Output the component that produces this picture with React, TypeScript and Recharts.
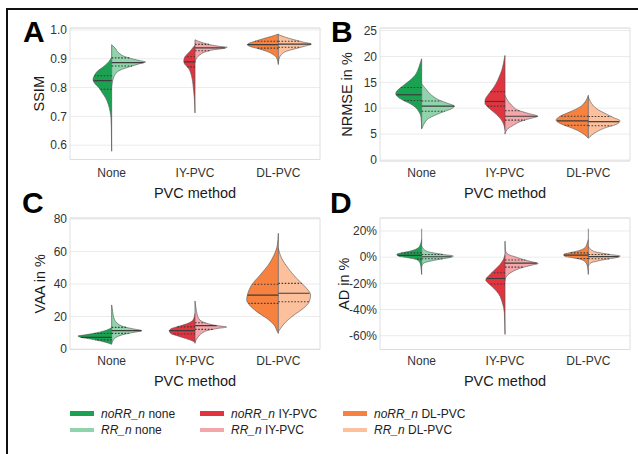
import React from "react";
import { ScatterChart, Scatter, XAxis, YAxis, CartesianGrid, ReferenceArea } from "recharts";

type Profile = [number, number][];

const methods = ["None", "IY-PVC", "DL-PVC"];
const legendMethods = ["none", "IY-PVC", "DL-PVC"];
const groupNames = ["noRR_n", "RR_n"];
const noRRColors = ["#1ba152", "#e2343f", "#f7823f"];
const rrColors = ["#90d4ab", "#f4a7ab", "#fcc09d"];

// violin outlines: [value, half width in category units], bottom to top

// SSIM
const ssimNoRR: Profile[] = [
  [[0.579, 0], [0.66, 0.004], [0.694, 0.008], [0.718, 0.02], [0.741, 0.04], [0.764, 0.072], [0.781, 0.111], [0.799, 0.152], [0.816, 0.207], [0.828, 0.224], [0.839, 0.212], [0.857, 0.171], [0.874, 0.092], [0.891, 0.032], [0.905, 0]],
  [[0.712, 0], [0.764, 0.008], [0.787, 0.016], [0.81, 0.024], [0.833, 0.036], [0.851, 0.052], [0.868, 0.08], [0.88, 0.12], [0.891, 0.135], [0.903, 0.128], [0.914, 0.1], [0.926, 0.06], [0.9375, 0.028], [0.947, 0]],
  [[0.88, 0], [0.903, 0.02], [0.914, 0.06], [0.926, 0.14], [0.935, 0.24], [0.943, 0.339], [0.949, 0.371], [0.953, 0.359], [0.961, 0.279], [0.97, 0.18], [0.978, 0.08], [0.986, 0]],
];
const ssimRR: Profile[] = [
  [[0.804, 0], [0.828, 0.016], [0.845, 0.04], [0.857, 0.08], [0.868, 0.168], [0.877, 0.267], [0.884, 0.347], [0.889, 0.407], [0.893, 0.347], [0.9, 0.248], [0.909, 0.147], [0.92, 0.087], [0.9375, 0.04], [0.949, 0]],
  [[0.885, 0], [0.903, 0.02], [0.914, 0.06], [0.924, 0.12], [0.931, 0.219], [0.935, 0.32], [0.94, 0.387], [0.943, 0.3], [0.949, 0.18], [0.955, 0.1], [0.961, 0.04], [0.966, 0]],
  [[0.885, 0], [0.897, 0.006], [0.914, 0.036], [0.926, 0.096], [0.935, 0.204], [0.944, 0.323], [0.951, 0.395], [0.958, 0.299], [0.966, 0.192], [0.975, 0.084], [0.984, 0]],
];
const ssimRange = [[0.579, 0.949], [0.712, 0.966], [0.88, 0.986]];
const ssimQNoRR = [[0.794, 0.824, 0.841], [0.872, 0.889, 0.907], [0.937, 0.949, 0.961]];
const ssimQRR = [[0.875, 0.887, 0.903], [0.928, 0.938, 0.95], [0.94, 0.951, 0.961]];
const ssimTicks = [0.6, 0.7, 0.8, 0.9, 1.0];

// NRMSE in %
const nrmseNoRR: Profile[] = [
  [[6.1, 0], [8.3, 0.008], [9.3, 0.032], [10.25, 0.08], [10.9, 0.14], [11.5, 0.219], [12.2, 0.287], [12.8, 0.311], [13.5, 0.287], [14.4, 0.219], [15.4, 0.14], [16.35, 0.08], [17.3, 0.048], [18.6, 0.02], [19.55, 0]],
  [[5.8, 0], [7.05, 0.02], [8.3, 0.072], [9.3, 0.14], [10.25, 0.207], [10.9, 0.24], [11.5, 0.24], [12.5, 0.207], [13.5, 0.159], [14.75, 0.108], [16.0, 0.072], [17.3, 0.04], [18.6, 0.02], [20.2, 0]],
  [[4.2, 0], [4.8, 0.04], [5.45, 0.1], [6.3, 0.219], [7.05, 0.339], [7.7, 0.387], [8.45, 0.339], [9.3, 0.219], [10.25, 0.1], [11.2, 0.04], [12.5, 0]],
];
const nrmseRR: Profile[] = [
  [[6.0, 0], [7.05, 0.032], [8.0, 0.08], [8.65, 0.16], [9.3, 0.26], [9.9, 0.359], [10.4, 0.392], [10.9, 0.32], [11.5, 0.219], [12.5, 0.12], [13.5, 0.06], [14.75, 0]],
  [[5.0, 0], [6.1, 0.04], [6.7, 0.1], [7.4, 0.18], [8.0, 0.3], [8.45, 0.392], [9.0, 0.279], [9.6, 0.159], [10.6, 0.08], [11.5, 0.032], [12.5, 0]],
  [[4.2, 0], [4.8, 0.04], [5.45, 0.1], [6.3, 0.219], [6.9, 0.339], [7.57, 0.38], [8.2, 0.3], [9.0, 0.2], [9.9, 0.1], [10.9, 0.04], [12.2, 0]],
];
const nrmseRange = [[6.0, 19.55], [5.0, 20.2], [4.2, 12.5]];
const nrmseQNoRR = [[11.5, 12.6, 14.0], [10.4, 11.3, 13.2], [6.7, 7.57, 8.45]];
const nrmseQRR = [[9.4, 10.4, 11.4], [7.7, 8.45, 9.5], [6.6, 7.4, 8.4]];
const nrmseTicks = [0, 5, 10, 15, 20, 25];

// VAA in %
const vaaNoRR: Profile[] = [
  [[2.9, 0], [3.5, 0.032], [4.9, 0.132], [6.15, 0.251], [7.2, 0.371], [8.0, 0.404], [8.6, 0.332], [9.64, 0.212], [11.1, 0.092], [13.1, 0]],
  [[4.1, 0], [5.1, 0.036], [6.6, 0.12], [8.2, 0.216], [9.6, 0.291], [11.3, 0.308], [12.7, 0.275], [14.2, 0.18], [15.8, 0.084], [17.8, 0.024], [22.0, 0]],
  [[9.6, 0], [10.7, 0.012], [14.8, 0.052], [18.9, 0.14], [23.0, 0.26], [27.1, 0.347], [30.2, 0.38], [33.2, 0.371], [39.4, 0.32], [45.5, 0.219], [51.7, 0.12], [57.8, 0.052], [64.0, 0.012], [71.2, 0]],
];
const vaaRR: Profile[] = [
  [[3.2, 0], [5.5, 0.02], [7.6, 0.068], [9.0, 0.147], [10.25, 0.267], [11.3, 0.359], [12.3, 0.267], [13.7, 0.147], [15.8, 0.068], [18.9, 0.028], [23.0, 0.012], [27.1, 0]],
  [[3.5, 0], [5.5, 0.012], [7.6, 0.04], [9.6, 0.08], [11.5, 0.159], [12.7, 0.279], [13.5, 0.38], [14.4, 0.26], [15.8, 0.14], [17.8, 0.06], [20.9, 0.028], [25.0, 0.012], [29.5, 0]],
  [[10.7, 0], [12.7, 0.028], [16.8, 0.092], [20.9, 0.188], [25.0, 0.299], [29.1, 0.371], [33.2, 0.387], [38.4, 0.32], [43.5, 0.219], [49.6, 0.12], [55.8, 0.04], [62.0, 0]],
];
const vaaRange = [[2.9, 27.1], [3.5, 29.5], [9.6, 71.2]];
const vaaQNoRR = [[5.6, 7.2, 9.5], [9.2, 11.3, 13.6], [28.1, 33.2, 39.8]];
const vaaQRR = [[9.6, 11.3, 13.3], [12.1, 14.4, 16.2], [29.1, 34.3, 40.4]];
const vaaTicks = [0, 20, 40, 60, 80];

// AD in %
const adNoRR: Profile[] = [
  [[-13.2, 0], [-8.1, 0.008], [-4.3, 0.02], [-1.8, 0.06], [-0.5, 0.159], [0.8, 0.279], [2.06, 0.299], [3.3, 0.24], [4.6, 0.14], [7.2, 0.04], [9.7, 0.016], [13.5, 0]],
  [[-59, 0], [-42.4, 0.008], [-34.8, 0.032], [-28.5, 0.072], [-23.4, 0.14], [-19.5, 0.207], [-17.6, 0.231], [-15.7, 0.219], [-13.2, 0.18], [-9.4, 0.12], [-5.6, 0.06], [-1.8, 0.02], [2.0, 0]],
  [[-13.2, 0], [-8.1, 0.008], [-4.3, 0.028], [-1.8, 0.087], [-0.5, 0.188], [0.8, 0.287], [2.06, 0.296], [3.3, 0.228], [4.6, 0.135], [7.2, 0.04], [9.7, 0.02], [13.5, 0]],
];
const adRR: Profile[] = [
  [[-6.9, 0], [-4.3, 0.032], [-3.1, 0.1], [-1.8, 0.2], [-0.5, 0.32], [0.8, 0.38], [2.06, 0.26], [3.3, 0.14], [4.6, 0.06], [8.4, 0]],
  [[-18.3, 0], [-15.7, 0.008], [-13.2, 0.04], [-10.7, 0.1], [-8.1, 0.2], [-6.1, 0.32], [-4.8, 0.399], [-3.5, 0.32], [-1.8, 0.219], [0.3, 0.12], [2.06, 0.04], [3.3, 0.018], [5.9, 0.004], [12.2, 0]],
  [[-6.9, 0], [-4.3, 0.032], [-3.1, 0.1], [-1.8, 0.2], [-0.5, 0.323], [0.8, 0.383], [2.06, 0.263], [3.3, 0.14], [4.6, 0.06], [8.4, 0]],
];
const adRange = [[-13.2, 21.7], [-59, 12.2], [-13.2, 21.7]];
const adQNoRR = [[-1.5, 1.3, 3.3], [-20.5, -16.3, -11.9], [-1.0, 1.5, 3.3]];
const adQRR = [[-1.2, 0.3, 2.0], [-7.6, -4.5, -2.2], [-1.2, 0.4, 2.0]];
const adTicks = [-60, -40, -20, 0, 20];

const panels = [
  { letter: "A", yLabel: "SSIM", noRR: ssimNoRR, rr: ssimRR, range: ssimRange, qNoRR: ssimQNoRR, qRR: ssimQRR, ticks: ssimTicks, domain: [0.5503, 1.0069], fmt: (v: number) => v.toFixed(1),
    left: 0, top: 0, width: 325, height: 205, plotTop: 28, plotBottom: 159.5, yAxisWidth: 70, tickMargin: 8.8, titleOffset: 7.5, yLabelOffset: 38.7 },
  { letter: "B", yLabel: "NRMSE in %", noRR: nrmseNoRR, rr: nrmseRR, range: nrmseRange, qNoRR: nrmseQNoRR, qRR: nrmseQRR, ticks: nrmseTicks, domain: [-0.2, 25.5], fmt: (v: number) => String(v),
    left: 320, top: 0, width: 315, height: 205, plotTop: 28, plotBottom: 161, yAxisWidth: 60, tickMargin: 7.3, titleOffset: 7.5, yLabelOffset: 27 },
  { letter: "C", yLabel: "VAA in %", noRR: vaaNoRR, rr: vaaRR, range: vaaRange, qNoRR: vaaQNoRR, qRR: vaaQRR, ticks: vaaTicks, domain: [-0.3, 80.6], fmt: (v: number) => String(v),
    left: 0, top: 190, width: 325, height: 200, plotTop: 28, plotBottom: 159.5, yAxisWidth: 70, tickMargin: 7.2, titleOffset: 4, yLabelOffset: 40 },
  { letter: "D", yLabel: "AD in %", noRR: adNoRR, rr: adRR, range: adRange, qNoRR: adQNoRR, qRR: adQRR, ticks: adTicks, domain: [-70.5, 29.9], fmt: (v: number) => `${v}%`,
    left: 320, top: 190, width: 315, height: 200, plotTop: 28, plotBottom: 159.5, yAxisWidth: 60, tickMargin: 7.2, titleOffset: 4, yLabelOffset: 24 },
];

const OUTLINE = "#555555";
const QLINE = "#3d3d3d";
const noShape = () => <g />;

// where a horizontal line at v meets the violin outline
const widthAt = (profile: Profile, v: number) => {
  for (let i = 1; i < profile.length; i++) {
    const [v0, w0] = profile[i - 1];
    const [v1, w1] = profile[i];
    if (v >= v0 && v <= v1) return w0 + ((v - v0) / (v1 - v0)) * (w1 - w0);
  }
  return 0;
};

function ViolinPanel({ p }: { p: (typeof panels)[number] }) {
  const halves: React.ReactNode[] = [];
  const centers: React.ReactNode[] = [];
  const quarts: React.ReactNode[] = [];

  methods.forEach((m, i) => {
    const c = i + 1;
    [
      { prof: p.noRR[i], q: p.qNoRR[i], side: -1, color: noRRColors[i] },
      { prof: p.rr[i], q: p.qRR[i], side: 1, color: rrColors[i] },
    ].forEach(({ prof, q, side, color }, g) => {
      halves.push(
        <Scatter
          key={`h-${i}-${g}`}
          data={prof.map(([v, w]) => ({ x: c + side * w, y: v }))}
          line={{ fill: color, stroke: OUTLINE, strokeWidth: 0.6 }}
          lineJointType="monotoneY"
          shape={noShape}
          isAnimationActive={false}
        />
      );
      q.forEach((qv, k) => {
        quarts.push(
          <Scatter
            key={`q-${i}-${g}-${k}`}
            data={[{ x: c, y: qv }, { x: c + side * widthAt(prof, qv), y: qv }]}
            line={k === 1 ? { stroke: QLINE, strokeWidth: 1.2 } : { stroke: QLINE, strokeWidth: 1.1, strokeDasharray: "1.6 1.6" }}
            shape={noShape}
            isAnimationActive={false}
          />
        );
      });
    });
    centers.push(
      <Scatter
        key={`c-${i}`}
        data={[{ x: c, y: p.range[i][0] }, { x: c, y: p.range[i][1] }]}
        line={{ stroke: OUTLINE, strokeWidth: 0.7 }}
        shape={noShape}
        isAnimationActive={false}
      />
    );
  });

  return (
    <div style={{ position: "absolute", left: p.left, top: p.top }}>
      <ScatterChart width={p.width} height={p.height} margin={{ top: p.plotTop, right: 5, bottom: 0, left: 0 }}>
        <CartesianGrid horizontal vertical={false} stroke="#ebebeb" strokeWidth={1} />
        <ReferenceArea x1={0.5} x2={3.5} y1={p.domain[0]} y2={p.domain[1]} fill="none" stroke="#dedede" strokeWidth={1} />
        <XAxis
          type="number"
          dataKey="x"
          domain={[0.5, 3.5]}
          allowDataOverflow
          ticks={[1, 2, 3]}
          tickFormatter={(v: number) => methods[v - 1]}
          height={p.height - p.plotBottom}
          axisLine={false}
          tickLine={false}
          tickSize={0}
          tickMargin={p.tickMargin}
          tick={{ fontSize: 12, fill: "#333" }}
          label={{ value: "PVC method", position: "insideBottom", offset: p.titleOffset, style: { fontSize: 14.5, fill: "#1a1a1a" } }}
        />
        <YAxis
          type="number"
          dataKey="y"
          domain={p.domain}
          allowDataOverflow
          ticks={p.ticks}
          tickFormatter={p.fmt}
          width={p.yAxisWidth}
          axisLine={false}
          tickLine={false}
          tickSize={0}
          tickMargin={3}
          tick={{ fontSize: 12, fill: "#333" }}
          label={{ value: p.yLabel, angle: -90, position: "insideLeft", offset: p.yLabelOffset, style: { fontSize: 14.5, fill: "#1a1a1a", textAnchor: "middle" } }}
        />
        {halves}
        {centers}
        {quarts}
      </ScatterChart>
    </div>
  );
}

const letterPos = [
  { left: 23, top: 17 },
  { left: 331, top: 17 },
  { left: 22, top: 188 },
  { left: 330, top: 188 },
];
const legendCols = [70, 200, 343];
const legendRows = [413.5, 430];

export default function App() {
  return (
    <div
      style={{
        position: "absolute",
        left: 0,
        top: 0,
        width: 638,
        height: 454,
        background: "#fff",
        overflow: "hidden",
        fontFamily: "'Liberation Sans', Arial, sans-serif",
      }}
    >
      <div style={{ position: "absolute", left: 6, top: 7.5, width: 700, height: 500, borderTop: "2.5px solid #111", borderLeft: "2.5px solid #111" }} />
      {panels.map((p) => (
        <ViolinPanel key={p.letter} p={p} />
      ))}
      {panels.map((p, i) => (
        <div key={`l-${p.letter}`} style={{ position: "absolute", left: letterPos[i].left, top: letterPos[i].top, fontSize: 30, fontWeight: 700, lineHeight: "30px", color: "#000" }}>
          {p.letter}
        </div>
      ))}
      {methods.map((m, i) =>
        groupNames.map((g, k) => (
          <div
            key={`lg-${i}-${k}`}
            style={{ position: "absolute", left: legendCols[i], top: legendRows[k] - 8, height: 16, display: "flex", alignItems: "center", fontSize: 12, color: "#222", whiteSpace: "nowrap" }}
          >
            <div style={{ width: 24, height: 4.5, background: k === 0 ? noRRColors[i] : rrColors[i], marginRight: 7 }} />
            <span style={{ fontStyle: "italic" }}>{g}</span>
            <span>&nbsp;{legendMethods[i]}</span>
          </div>
        ))
      )}
    </div>
  );
}
